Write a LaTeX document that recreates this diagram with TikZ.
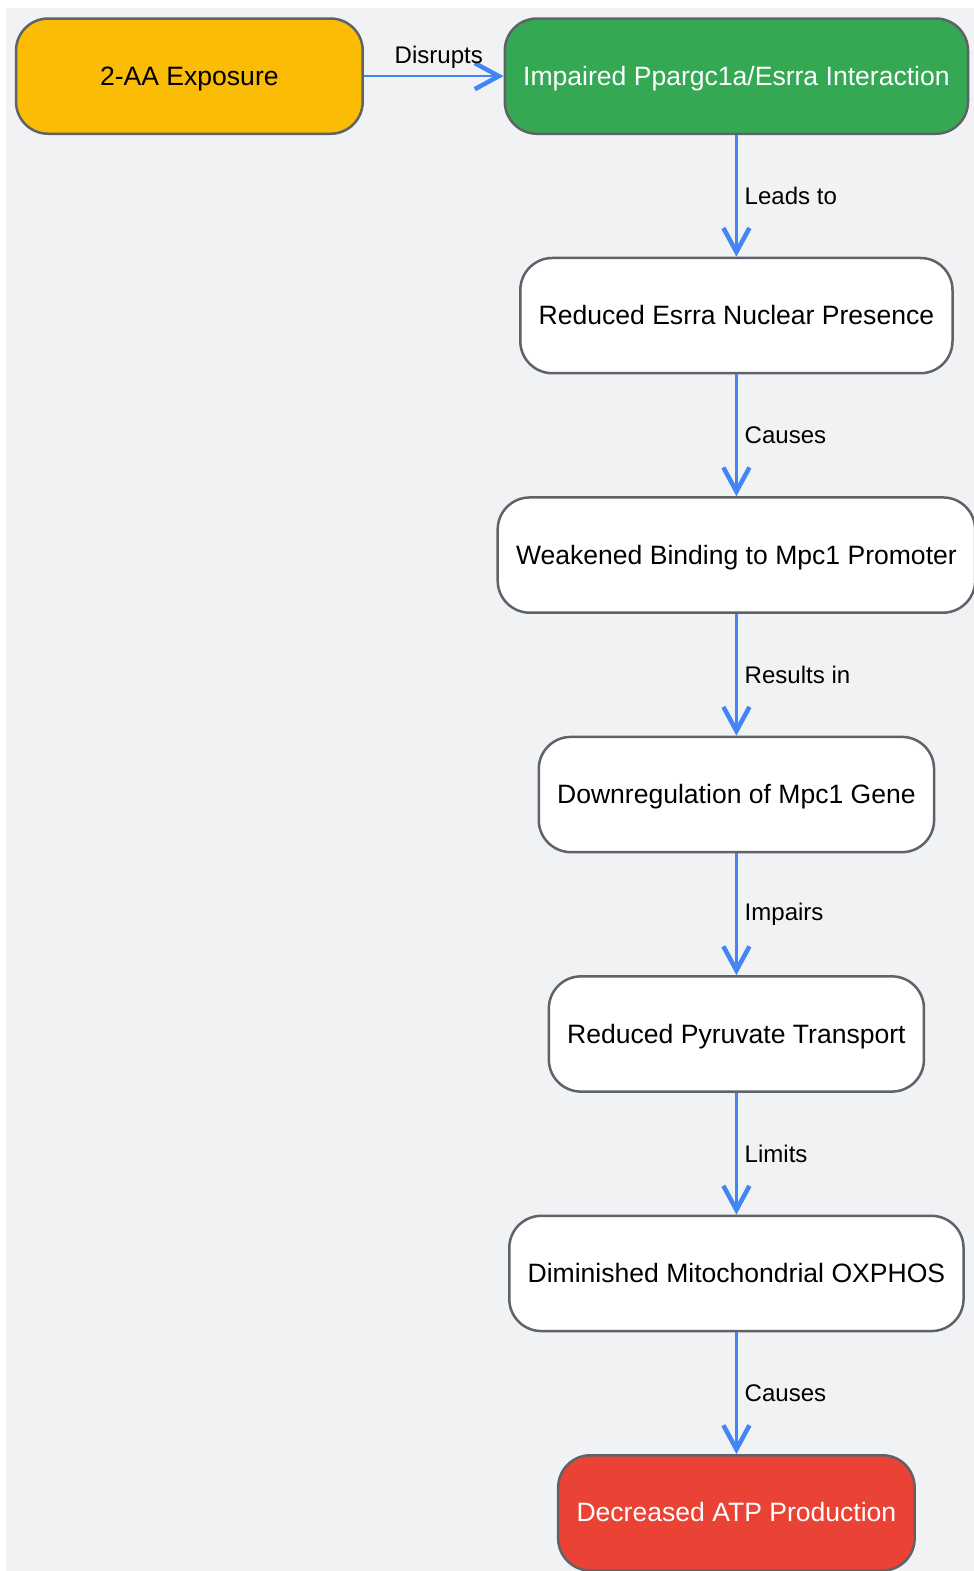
\documentclass[tikz,border=0pt]{standalone}
\usepackage{fontspec}
\setmainfont{Liberation Sans}
\usetikzlibrary{arrows.meta}
\definecolor{bgcol}{RGB}{241,242,244}
\definecolor{edgecol}{RGB}{66,133,244}
\definecolor{bordercol}{RGB}{95,99,104}
\definecolor{yellowbox}{RGB}{251,188,5}
\definecolor{greenbox}{RGB}{52,168,83}
\definecolor{redbox}{RGB}{234,67,53}
\tikzset{
  box/.style={draw=bordercol, line width=2.5pt, fill=white, rounded corners=32pt,
    minimum height=115pt, inner xsep=18.3pt, text height=19pt, text depth=1pt,
    font=\fontsize{26.5}{30}\selectfont},
  link/.style={draw=edgecol, line width=2.5pt,
    -{Straight Barb[length=24pt,width=26pt,line width=4.5pt]}},
  linklabel/.style={font=\fontsize{24}{28}\selectfont, inner sep=0pt}
}
\begin{document}
\begin{tikzpicture}[x=1pt,y=1pt]
\useasboundingbox (0,0) rectangle (972,-1568);
\fill[bgcol] (6,-8) rectangle (972,-1568);
\node[box, fill=yellowbox, minimum width=346pt] (exposure) at (189,-76) {2-AA Exposure};
\node[box, fill=greenbox, text=white] (interaction) at (735,-76) {Impaired Ppargc1a/Esrra Interaction};
\node[box] (esrra) at (735,-315) {Reduced Esrra Nuclear Presence};
\node[box] (binding) at (735,-554) {Weakened Binding to Mpc1 Promoter};
\node[box] (mpc) at (735,-793) {Downregulation of Mpc1 Gene};
\node[box] (pyruvate) at (735,-1032) {Reduced Pyruvate Transport};
\node[box] (oxphos) at (735,-1271) {Diminished Mitochondrial OXPHOS};
\node[box, fill=redbox, text=white] (atp) at (735,-1510) {Decreased ATP Production};
\draw[link] (exposure) -- node[linklabel, midway, yshift=19pt, xshift=5pt] {Disrupts} (interaction);
\draw[link] (interaction) -- node[linklabel, midway, anchor=west, xshift=7pt] {Leads to} (esrra);
\draw[link] (esrra) -- node[linklabel, midway, anchor=west, xshift=7pt] {Causes} (binding);
\draw[link] (binding) -- node[linklabel, midway, anchor=west, xshift=7pt] {Results in} (mpc);
\draw[link] (mpc) -- node[linklabel, midway, anchor=west, xshift=7pt] {Impairs} (pyruvate);
\draw[link] (pyruvate) -- node[linklabel, midway, anchor=west, xshift=7pt] {Limits} (oxphos);
\draw[link] (oxphos) -- node[linklabel, midway, anchor=west, xshift=7pt] {Causes} (atp);
\end{tikzpicture}
\end{document}
